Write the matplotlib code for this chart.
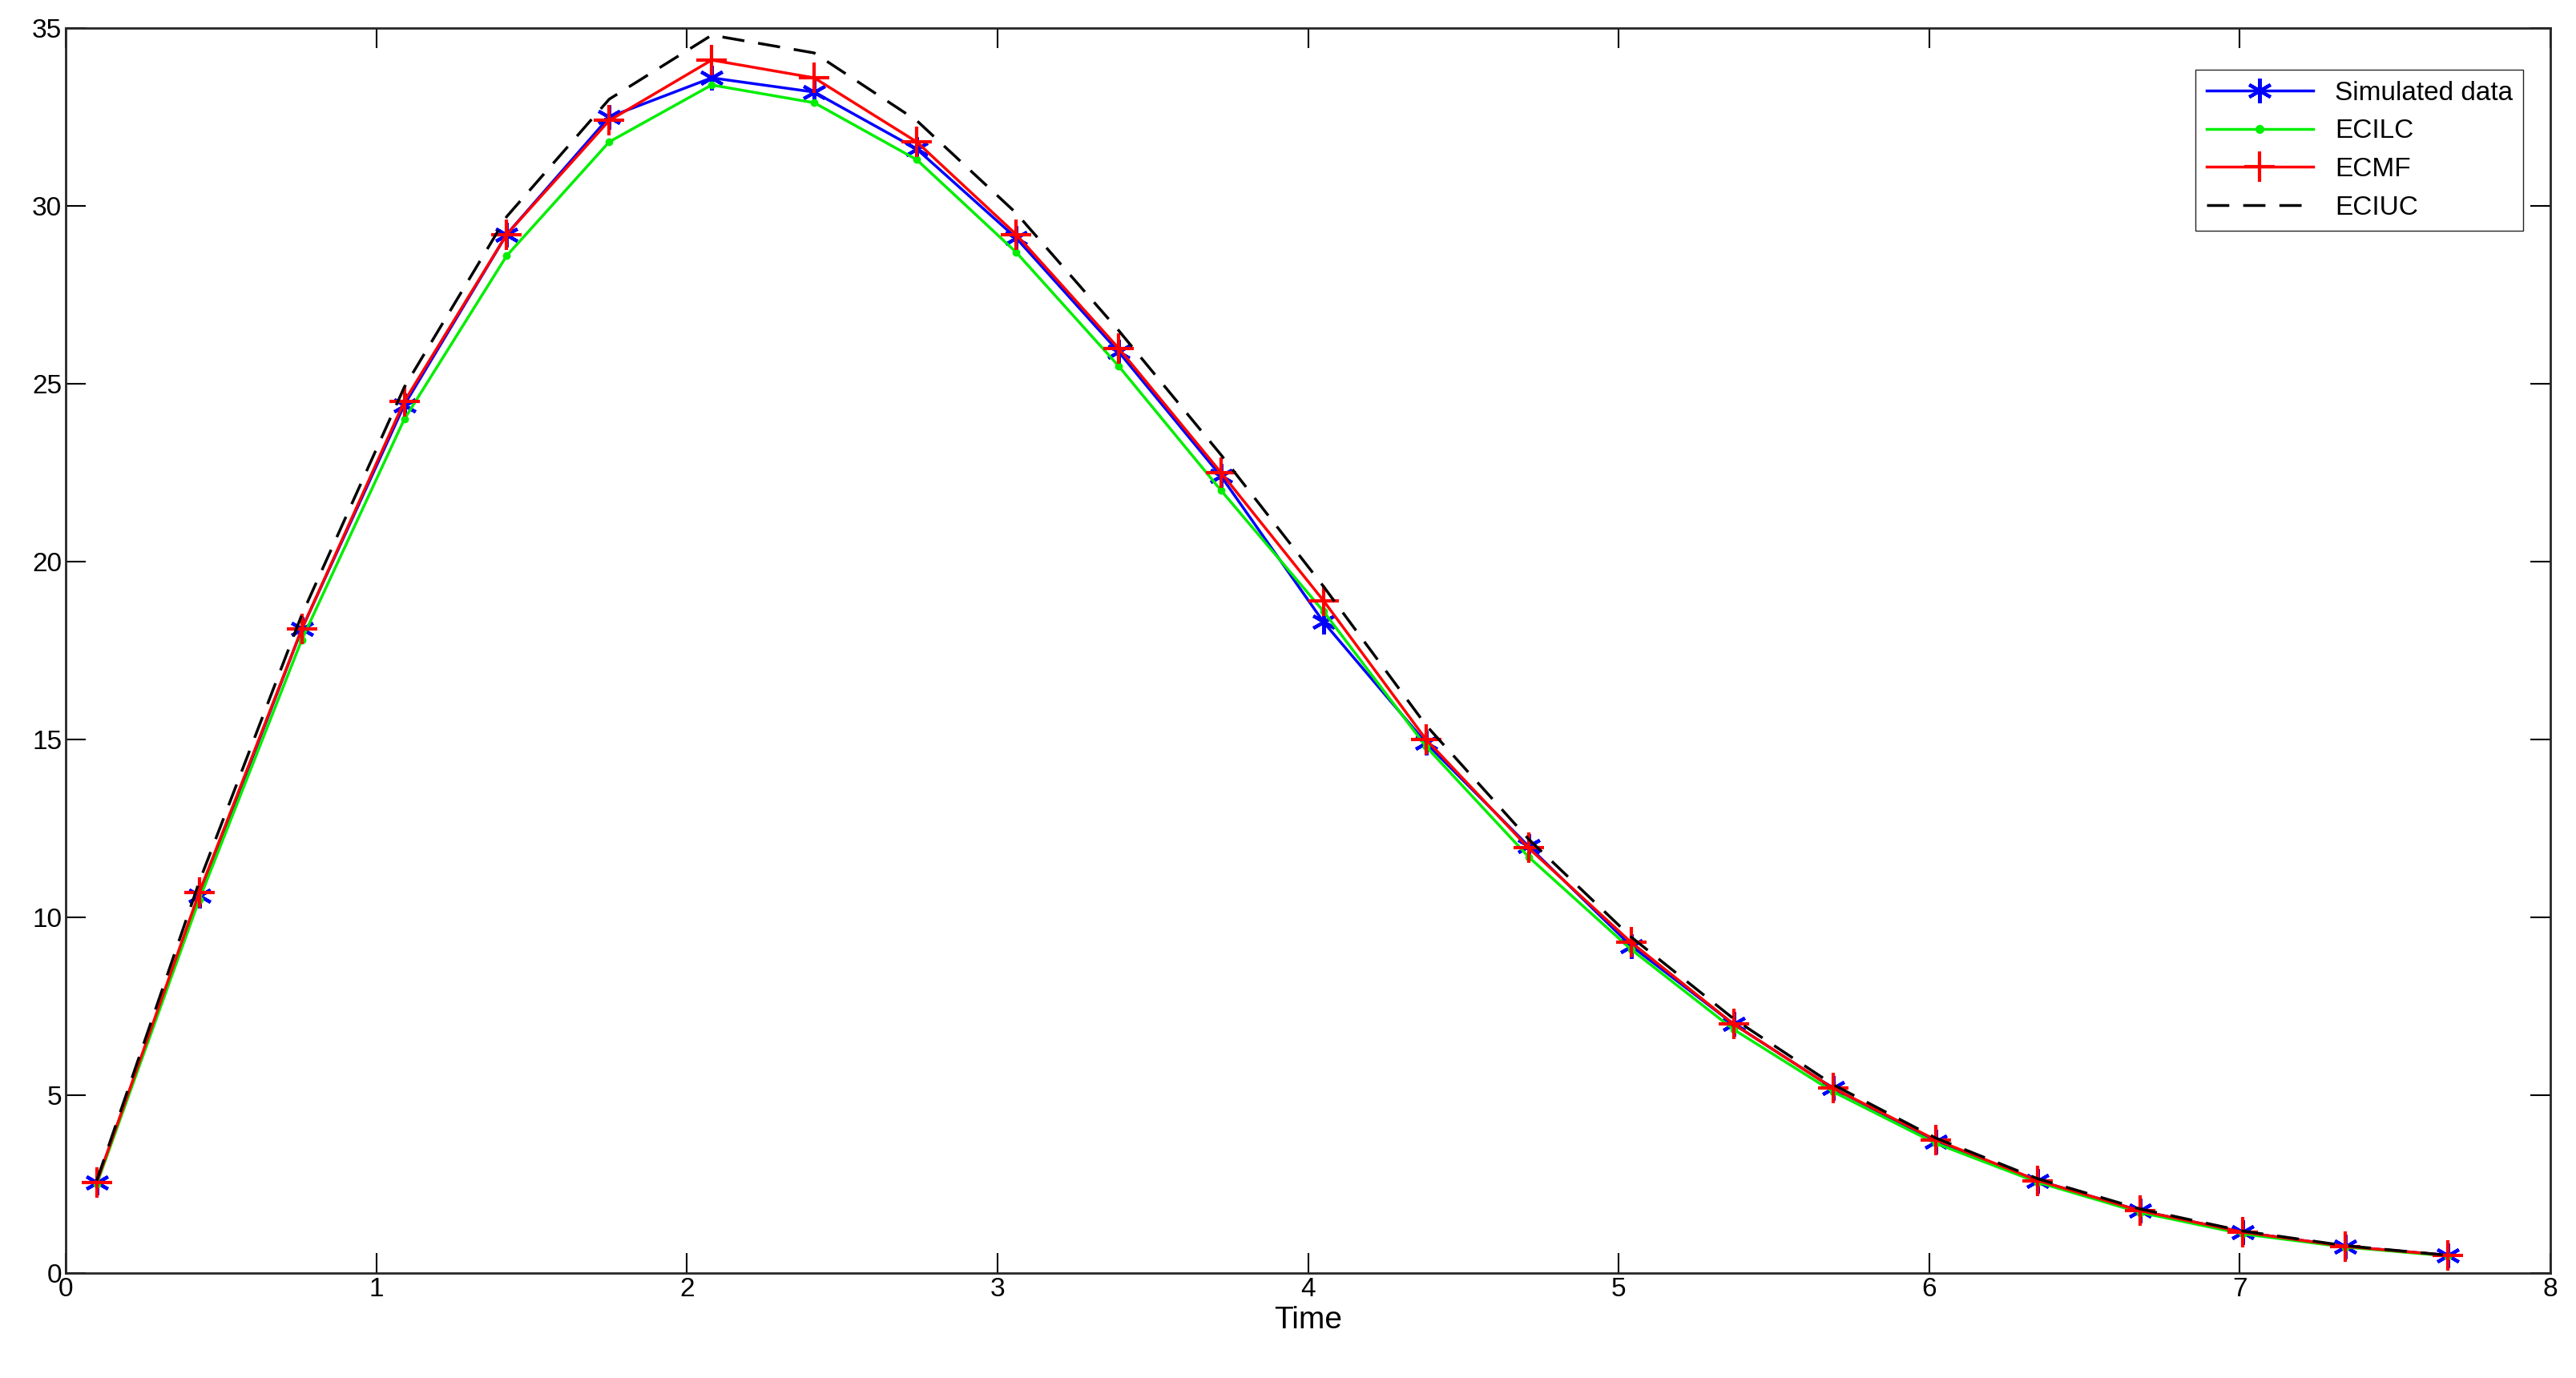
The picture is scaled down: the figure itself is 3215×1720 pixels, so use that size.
import matplotlib.pyplot as plt

time = [0.1, 0.43, 0.76, 1.09, 1.42, 1.75, 2.08, 2.41, 2.74, 3.06, 3.39, 3.72,
        4.05, 4.38, 4.71, 5.04, 5.37, 5.69, 6.02, 6.35, 6.68, 7.01, 7.34, 7.67]
simulated = [2.55, 10.6, 18.1, 24.4, 29.2, 32.5, 33.6, 33.2, 31.6, 29.1, 25.9, 22.4,
             18.3, 14.9, 12.0, 9.2, 7.0, 5.2, 3.7, 2.6, 1.75, 1.15, 0.75, 0.5]
ecilc = [2.5, 10.5, 17.8, 24.0, 28.6, 31.8, 33.4, 32.9, 31.3, 28.7, 25.5, 22.0,
         18.6, 14.8, 11.7, 9.1, 6.85, 5.1, 3.65, 2.55, 1.7, 1.1, 0.73, 0.48]
ecmf = [2.55, 10.7, 18.1, 24.5, 29.2, 32.4, 34.1, 33.6, 31.8, 29.2, 26.0, 22.5,
        18.9, 15.0, 11.95, 9.3, 7.0, 5.2, 3.75, 2.6, 1.75, 1.15, 0.75, 0.5]
eciuc = [2.6, 11.0, 18.5, 24.9, 29.7, 33.0, 34.8, 34.3, 32.4, 29.8, 26.5, 23.0,
         19.3, 15.4, 12.2, 9.45, 7.15, 5.3, 3.8, 2.65, 1.8, 1.18, 0.77, 0.5]

plt.rcParams['font.family'] = ['Liberation Sans', 'DejaVu Sans']
fig = plt.figure(figsize=(32.15, 17.2), dpi=100)
ax = fig.add_axes([82 / 3215, 1 - 1589 / 1720, (3183 - 82) / 3215, (1589 - 35) / 1720])

ax.plot(time, simulated, color='blue', marker='x', markersize=0, lw=2.5)
ax.plot(time, simulated, color='blue', linestyle='none', marker='*', markersize=1, label='_')
ax.plot(time, simulated, color='blue', linestyle='none', marker=(6, 2, 0), markersize=22, mew=3)
ax.plot(time, ecilc, color='#00ee00', marker='.', markersize=12, lw=2.5)
ax.plot(time, ecmf, color='red', marker='+', markersize=28, mew=3, lw=2.5)
ax.plot(time, eciuc, color='black', linestyle=(0, (8, 5)), lw=2.5)

from matplotlib.lines import Line2D
handles = [
    Line2D([], [], color='blue', lw=2.5, marker=(6, 2, 0), markersize=22, mew=3),
    Line2D([], [], color='#00ee00', lw=2.5, marker='.', markersize=14),
    Line2D([], [], color='red', lw=2.5, marker='+', markersize=28, mew=3),
    Line2D([], [], color='black', lw=2.5, linestyle=(0, (8, 5))),
]
ax.legend(handles, ['Simulated data', 'ECILC', 'ECMF', 'ECIUC'], loc='upper right',
          fontsize=24, fancybox=False, edgecolor='#262626', framealpha=1,
          handlelength=4, bbox_to_anchor=(0.9945, 0.977))

ax.set_xlim(0, 8)
ax.set_ylim(0, 35)
ax.set_xlabel('Time', fontsize=28)
ax.tick_params(direction='in', top=True, right=True, labelsize=24, length=18, width=1.5)
for s in ax.spines.values():
    s.set_linewidth(2)
    s.set_color('#262626')

fig.savefig('out.png', dpi=100)
